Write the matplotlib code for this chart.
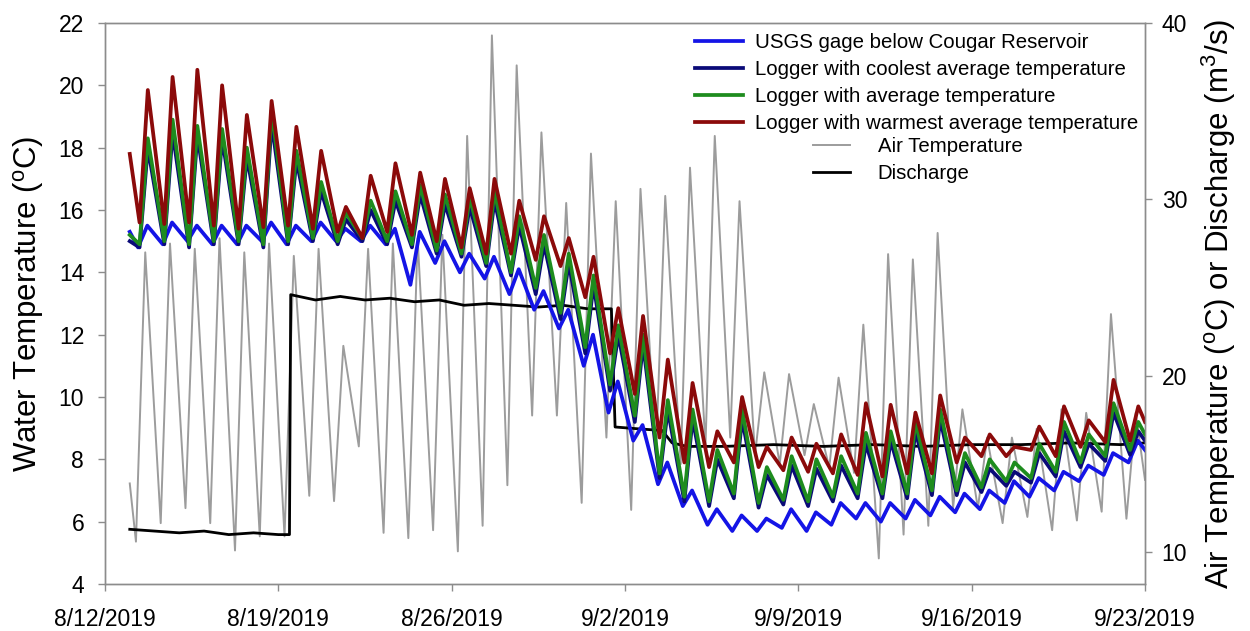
import matplotlib
matplotlib.use('Agg')
import matplotlib.pyplot as plt
import matplotlib.dates as mdates
import numpy as np
from datetime import datetime

plt.rcParams['font.family'] = 'Liberation Sans'
plt.rcParams['mathtext.fontset'] = 'custom'
plt.rcParams['mathtext.rm'] = 'Liberation Sans'
plt.rcParams['mathtext.it'] = 'Liberation Sans:italic'

inicio = datetime(2019, 8, 12)

# Minimos e maximos diarios, 13/08 a 22/09 (um valor por dia).
ar_min = [10.6, 11.65, 12.5, 11.65, 10.1, 10.9, 10.9, 13.2, 12.9, 16.0,
          11.1, 10.8, 11.25, 10.05, 11.5, 13.8, 17.75, 17.75, 12.8, 16.5,
          12.4, 15.5, 15.0, 16.0, 16.5, 15.5, 15.0, 15.5, 14.8, 14.5,
          9.65, 11.0, 11.5, 12.5, 12.5, 11.65, 12.0, 11.25, 11.8, 12.3, 11.9]
ar_max = [27.0, 27.5, 27.2, 27.8, 27.0, 27.5, 26.8, 27.2, 21.7, 27.2,
          27.5, 27.8, 28.0, 33.6, 39.3, 37.6, 33.8, 29.8, 32.6, 29.9,
          30.6, 30.2, 31.8, 33.6, 29.9, 20.2, 20.1, 18.4, 19.9, 22.9,
          26.9, 26.6, 28.1, 18.1, 16.5, 16.5, 17.0, 18.1, 17.9, 23.5, 17.9]

quente_min = [15.6, 15.55, 15.6, 15.5, 15.4, 15.45, 15.5, 15.4, 15.3, 15.1,
              15.3, 15.2, 15.0, 14.8, 14.6, 14.6, 14.4, 14.2, 13.2, 11.4,
              10.1, 8.7, 7.9, 7.75, 7.9, 7.75, 7.65, 7.6, 7.55, 7.5,
              7.45, 7.55, 7.55, 7.9, 8.1, 8.1, 8.3, 8.1, 8.4, 8.55, 8.6]
quente_max = [19.85, 20.27, 20.5, 20.0, 19.05, 19.5, 18.67, 17.9, 16.1, 17.1,
              17.5, 17.2, 17.0, 16.7, 17.0, 16.3, 15.8, 15.1, 14.5, 12.85,
              12.6, 11.2, 10.45, 8.9, 10.0, 8.4, 8.7, 8.5, 8.8, 9.8,
              9.75, 9.5, 10.05, 8.7, 8.8, 8.4, 9.05, 9.7, 9.25, 10.55, 9.7]

media_min = [14.9, 15.0, 14.9, 15.0, 15.0, 14.9, 15.0, 15.1, 15.0, 15.1,
             15.0, 14.9, 14.7, 14.6, 14.3, 14.0, 13.5, 12.7, 11.6, 10.4,
             9.4, 7.55, 6.8, 6.65, 6.9, 6.6, 6.7, 6.65, 6.8, 6.9,
             6.9, 6.9, 7.0, 7.0, 7.1, 7.3, 7.4, 7.6, 7.9, 8.1, 8.3]
media_max = [18.3, 18.9, 18.7, 18.6, 18.0, 19.2, 17.9, 16.9, 15.9, 16.3,
             16.6, 16.8, 16.5, 16.4, 16.6, 15.8, 15.2, 14.6, 13.9, 12.3,
             12.0, 9.9, 9.6, 8.3, 9.6, 7.75, 8.1, 8.0, 8.1, 8.85,
             8.9, 9.2, 9.6, 8.2, 8.0, 7.9, 8.5, 9.2, 8.8, 9.8, 9.2]

fria_min = [14.8, 14.9, 14.8, 14.9, 14.9, 14.8, 14.9, 15.0, 14.9, 15.0,
            14.9, 14.8, 14.6, 14.5, 14.2, 13.9, 13.3, 12.5, 11.4, 10.2,
            9.2, 7.4, 6.65, 6.5, 6.75, 6.45, 6.55, 6.5, 6.65, 6.75,
            6.75, 6.75, 6.85, 6.85, 6.95, 7.15, 7.25, 7.45, 7.75, 7.95, 8.15]
fria_max = [18.0, 18.5, 18.4, 18.3, 17.7, 18.8, 17.6, 16.6, 15.7, 16.0,
            16.3, 16.5, 16.2, 16.1, 16.3, 15.5, 14.9, 14.3, 13.6, 12.0,
            11.7, 9.6, 9.3, 8.0, 9.3, 7.5, 7.8, 7.7, 7.8, 8.5,
            8.6, 8.9, 9.3, 7.9, 7.7, 7.6, 8.2, 8.9, 8.5, 9.5, 8.9]

usgs_min = [14.8, 14.9, 15.0, 14.9, 14.9, 15.0, 14.9, 15.0, 15.0, 15.0,
            14.9, 13.6, 14.3, 14.0, 13.8, 13.3, 12.8, 12.2, 11.0, 9.5,
            8.6, 7.2, 6.5, 5.9, 5.7, 5.7, 5.8, 5.7, 5.9, 6.1,
            6.0, 6.1, 6.2, 6.3, 6.4, 6.6, 6.8, 7.0, 7.3, 7.5, 7.9]
usgs_max = [15.5, 15.6, 15.5, 15.5, 15.5, 15.6, 15.5, 15.6, 15.4, 15.5,
            15.4, 15.3, 15.0, 14.6, 14.5, 14.1, 13.4, 12.8, 12.0, 10.5,
            9.1, 7.9, 7.0, 6.4, 6.2, 6.1, 6.4, 6.3, 6.6, 6.6,
            6.6, 6.7, 6.8, 6.9, 7.0, 7.3, 7.4, 7.6, 7.8, 8.2, 8.6]

# Valores no inicio (13/08 00h) e no fim (23/09 00h) de cada serie.
ar_ini, ar_fim = 13.9, 14.1
quente_ini, quente_fim = 17.8, 9.2
media_ini, media_fim = 15.2, 8.8
fria_ini, fria_fim = 15.0, 8.6
usgs_ini, usgs_fim = 15.3, 8.3

# Vazao (m3/s): dias desde 12/08 e valores.
vazao_dias = [1.0, 2.0, 3.0, 4.0, 5.0, 6.0, 7.0, 7.45, 7.5, 8.5, 9.5, 10.5,
              11.5, 12.5, 13.5, 14.5, 15.5, 16.5, 17.5, 18.5, 19.5, 20.45,
              20.6, 21.5, 22.5, 22.9, 23.5, 25.0, 27.0, 29.0, 31.0, 33.0,
              35.0, 37.0, 39.0, 41.0, 42.0]
vazao = [11.3, 11.2, 11.1, 11.2, 11.0, 11.1, 11.0, 11.0, 24.6, 24.3, 24.5, 24.3,
         24.4, 24.2, 24.3, 24.0, 24.1, 24.0, 23.9, 24.0, 23.8, 23.8,
         17.1, 17.0, 16.9, 16.2, 16.0, 16.0, 16.1, 16.0, 16.1, 16.0,
         16.1, 16.1, 16.2, 16.1, 16.2]

base = mdates.date2num(inicio)


def serie_diaria(v_ini, minimos, maximos, v_fim, h_min, h_max):
    # Intercala minimo e maximo de cada dia nos horarios dados.
    t = [1.0]
    v = [v_ini]
    for i, (lo, hi) in enumerate(zip(minimos, maximos)):
        t += [i + 1 + h_min / 24, i + 1 + h_max / 24]
        v += [lo, hi]
    t.append(42.0)
    v.append(v_fim)
    return base + np.array(t), np.array(v)


fig = plt.figure(figsize=(12.5, 6.31), dpi=100)
ax = fig.add_axes([0.084, 0.0745, 0.832, 0.889])
ax2 = ax.twinx()
ax.set_zorder(ax2.get_zorder() + 1)
ax.patch.set_visible(False)

t, v = serie_diaria(ar_ini, ar_min, ar_max, ar_fim, 6, 15)
l_ar, = ax2.plot(t, v, color='#9c9c9c', lw=1.4, label='Air Temperature')
l_q, = ax2.plot(base + np.array(vazao_dias), vazao, color='black', lw=2.0,
                label='Discharge')

t, v = serie_diaria(usgs_ini, usgs_min, usgs_max, usgs_fim, 8, 17)
l_usgs, = ax.plot(t, v, color='#1414e6', lw=2.7,
                  label='USGS gage below Cougar Reservoir')
t, v = serie_diaria(fria_ini, fria_min, fria_max, fria_fim, 9.5, 17.5)
l_fria, = ax.plot(t, v, color='#0a0a78', lw=2.7,
                  label='Logger with coolest average temperature')
t, v = serie_diaria(media_ini, media_min, media_max, media_fim, 9.5, 17.5)
l_media, = ax.plot(t, v, color='#1e8c1e', lw=2.7,
                   label='Logger with average temperature')
t, v = serie_diaria(quente_ini, quente_min, quente_max, quente_fim, 9.5, 17.5)
l_quente, = ax.plot(t, v, color='#8b0a0a', lw=2.7,
                    label='Logger with warmest average temperature')

# Eixos
ax.set_xlim(base, base + 42)
ax.set_ylim(4, 22)
ax2.set_ylim(8.2, 39.9)
ax.set_yticks(range(4, 23, 2))
ax2.set_yticks([10, 20, 30, 40])
ax.set_xticks([base + 7 * k for k in range(7)])
ax.xaxis.set_major_formatter(plt.FuncFormatter(
    lambda x, pos: '{0.month}/{0.day}/{0.year}'.format(mdates.num2date(x))))

for a in (ax, ax2):
    for s in a.spines.values():
        s.set_color('#8c8c8c')
        s.set_linewidth(1.0)
    a.tick_params(direction='out', length=5, width=1, color='#8c8c8c',
                  labelsize=16.5)
ax.tick_params(axis='y', pad=10)
ax.tick_params(axis='x', pad=12)
ax2.tick_params(axis='y', pad=7)

ax.set_ylabel('Water Temperature ($^{\\mathrm{o}}$C)', fontsize=22.5, labelpad=9)
ax2.set_ylabel('Air Temperature ($^{\\mathrm{o}}$C) or Discharge (m$^{3}$/s)',
               fontsize=22.5, labelpad=9)

# Legendas
leg1 = ax.legend(handles=[l_usgs, l_fria, l_media, l_quente],
                 loc='upper left', bbox_to_anchor=(695 / 1250, 1 - 33 / 631),
                 bbox_transform=fig.transFigure, frameon=False, fontsize=14.7,
                 handlelength=2.35, handletextpad=0.6, labelspacing=0.39,
                 borderpad=0, borderaxespad=0)
ax.add_artist(leg1)
ax.legend(handles=[l_ar, l_q], loc='upper left',
          bbox_to_anchor=(813 / 1250, 1 - 137 / 631),
          bbox_transform=fig.transFigure, frameon=False, fontsize=14.7,
          handlelength=1.8, handletextpad=1.37, labelspacing=0.39,
          borderpad=0, borderaxespad=0)

plt.savefig('out.png', dpi=100)
